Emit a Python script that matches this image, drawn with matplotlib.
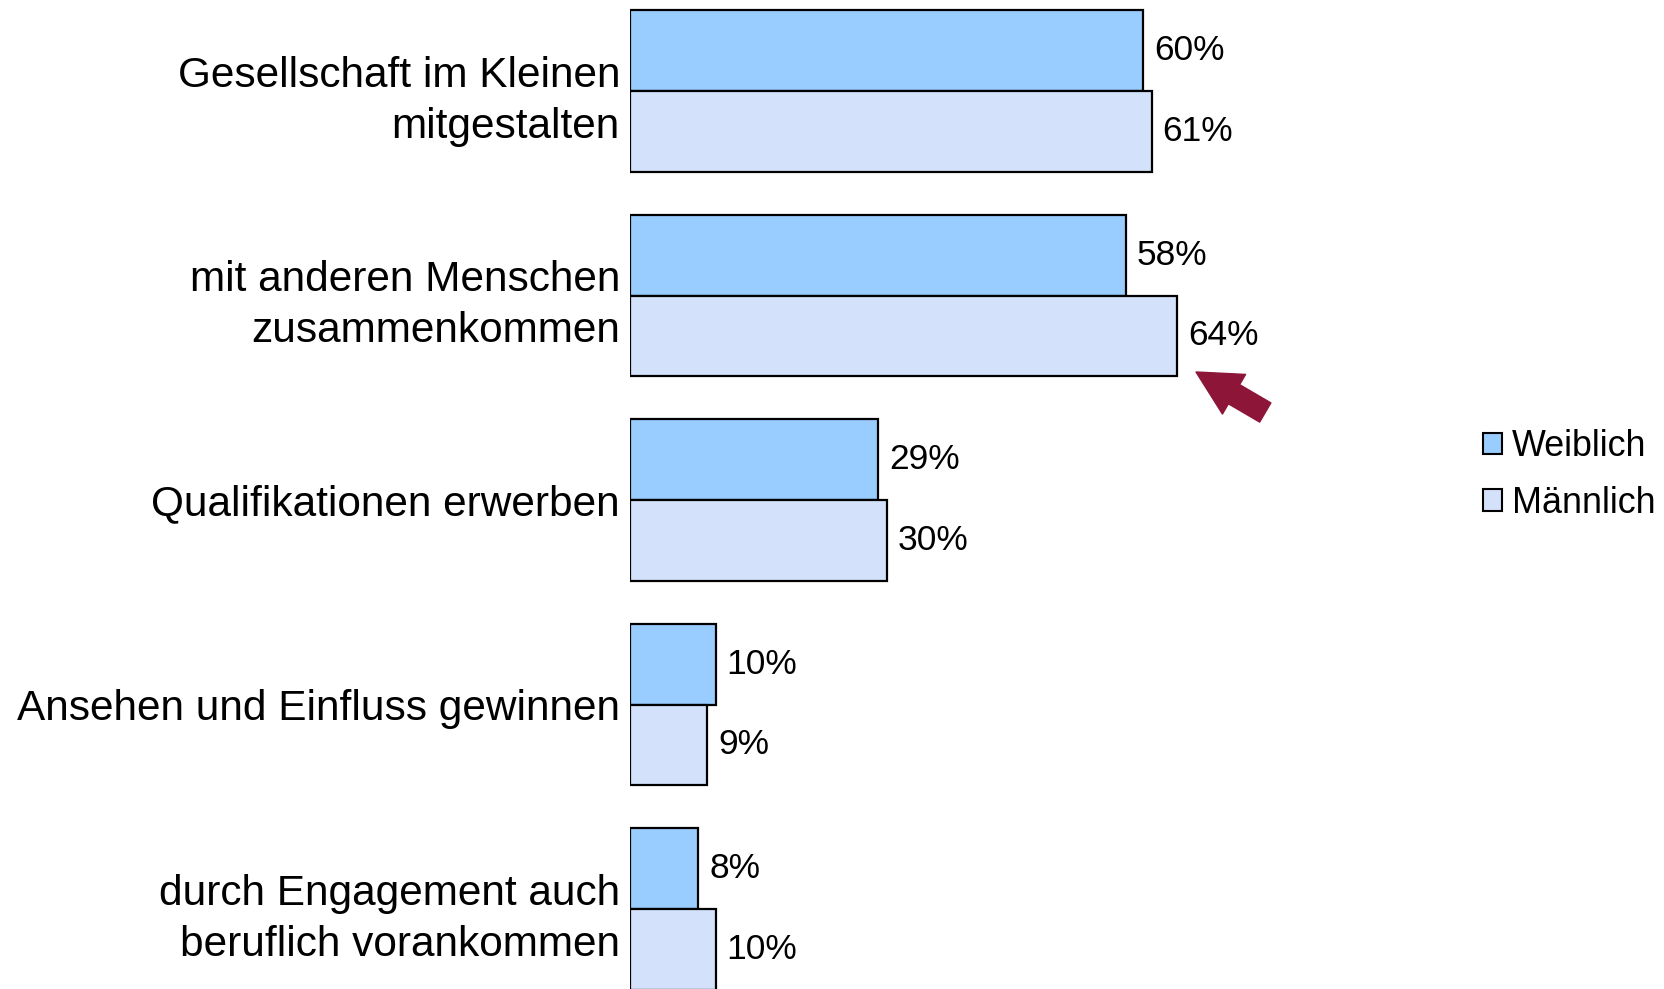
import matplotlib
matplotlib.use("Agg")
import matplotlib.pyplot as plt
import numpy as np
from matplotlib.patches import Patch

plt.rcParams["font.family"] = ["Liberation Sans", "DejaVu Sans"]

categories = [
    "Gesellschaft im Kleinen\nmitgestalten",
    "mit anderen Menschen\nzusammenkommen",
    "Qualifikationen erwerben",
    "Ansehen und Einfluss gewinnen",
    "durch Engagement auch\nberuflich vorankommen",
]
weiblich = [60, 58, 29, 10, 8]
maennlich = [61, 64, 30, 9, 10]
series_names = ["Weiblich", "Männlich"]

color_w = "#99CCFF"
color_m = "#D3E2FA"
arrow_color = "#8C1538"

fig = plt.figure(figsize=(16.65, 9.89), dpi=100)
ax = fig.add_axes([630 / 1665, 0, 1 - 630 / 1665, 1])

y = np.arange(len(categories))
h = 0.395
bars_w = ax.barh(y - h / 2, weiblich, height=h, color=color_w,
                 edgecolor="black", linewidth=1.6)
bars_m = ax.barh(y + h / 2, maennlich, height=h, color=color_m,
                 edgecolor="black", linewidth=1.6)

ax.bar_label(bars_w, labels=[f"{v}%" for v in weiblich], padding=8, fontsize=25.5)
ax.bar_label(bars_m, labels=[f"{v}%" for v in maennlich], padding=8, fontsize=25.5)

ax.set_xlim(0, (1665 - 630) / 8.55)
ax.set_ylim(4.391, -0.445)
ax.set_yticks(y)
ax.set_yticklabels(categories, fontsize=30.5)
for lbl in ax.get_yticklabels():
    lbl.set_linespacing(1.37)
ax.tick_params(axis="y", length=0, pad=7.2)
ax.set_xticks([])
for side in ax.spines.values():
    side.set_visible(False)

# arrow pointing at the 64% bar
ax.annotate("", xy=(66.2, 1.374), xytext=(74.3, 1.572),
            arrowprops=dict(arrowstyle="simple,head_length=31.7,head_width=33,tail_width=16",
                            mutation_scale=1, color=arrow_color, shrinkA=0, shrinkB=0))

handles = [Patch(facecolor=color_w, edgecolor="black", linewidth=1.5),
           Patch(facecolor=color_m, edgecolor="black", linewidth=1.5)]
fig.legend(handles, series_names, loc="center left", bbox_to_anchor=(0.8907, 0.5198),
           frameon=False, fontsize=25.8, handlelength=0.53, handleheight=0.53,
           handletextpad=0.27, labelspacing=0.6, borderpad=0, borderaxespad=0)

fig.savefig("out.png", dpi=100)
